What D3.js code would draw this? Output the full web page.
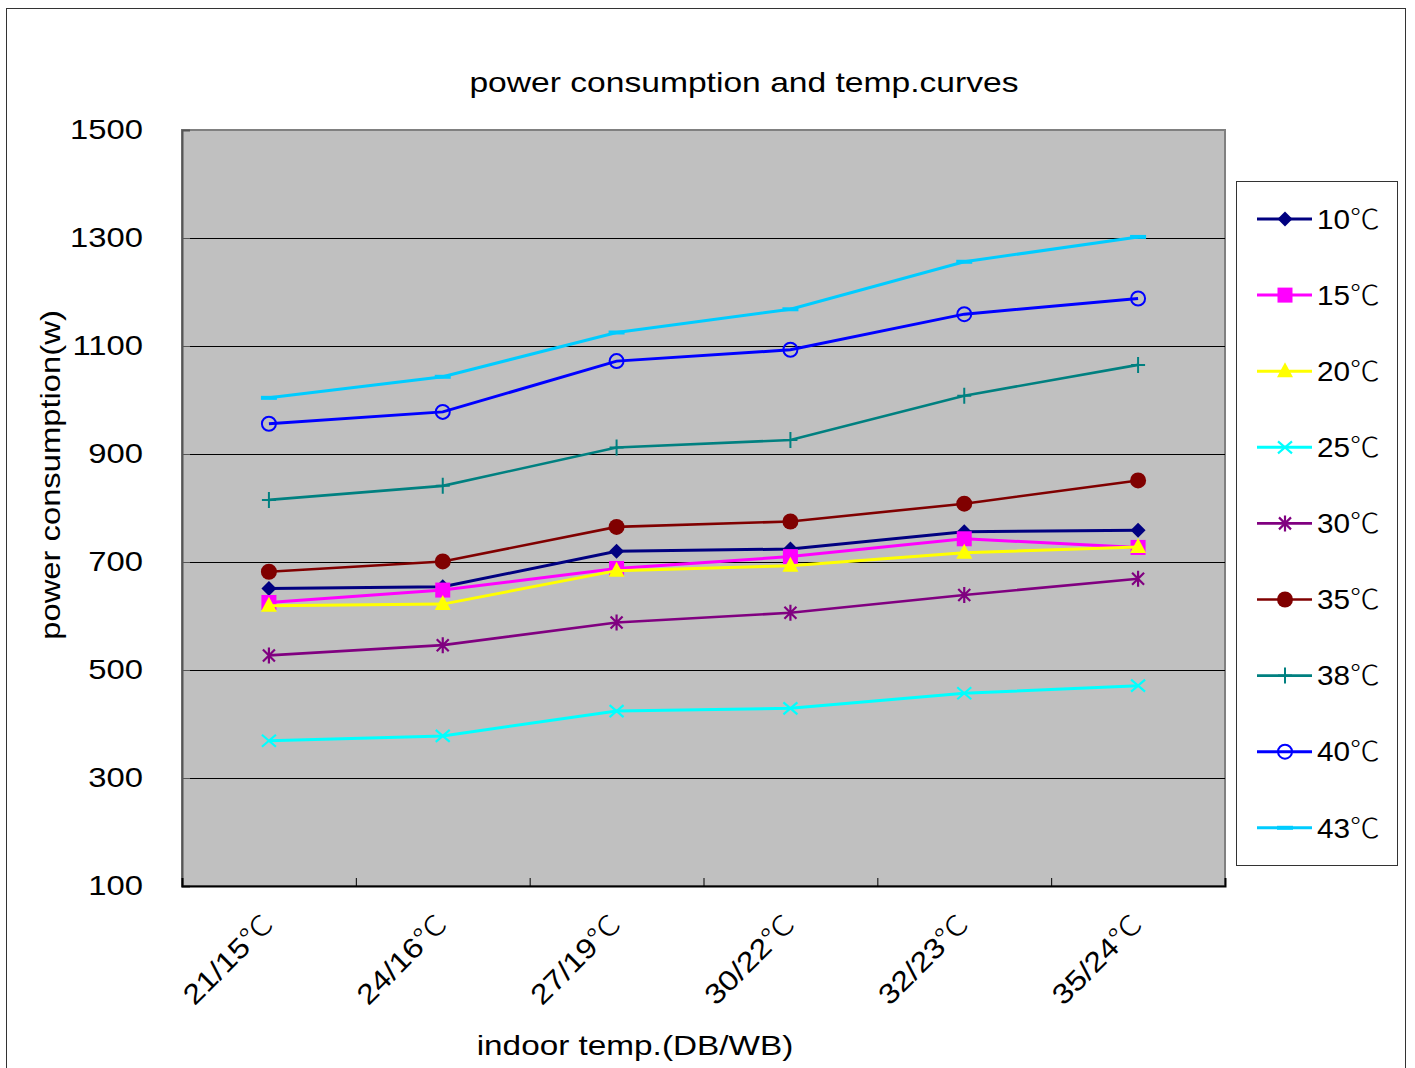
<!DOCTYPE html>
<html><head><meta charset="utf-8">
<script src="https://cdn.jsdelivr.net/npm/d3@7"></script>
<style>body{margin:0;background:#fff}svg text{font-family:"Liberation Sans",Arial,sans-serif;fill:#000}.cjk{font-family:"Noto Sans CJK SC",sans-serif}</style>
</head><body>
<svg id="c" width="1415" height="1068"></svg>
<script>
const categories = ["21/15℃","24/16℃","27/19℃","30/22℃","32/23℃","35/24℃"];
const yTicks = [100,300,500,700,900,1100,1300,1500];
const seriesNames = ["10℃","15℃","20℃","25℃","30℃","35℃","38℃","40℃","43℃"];
const s10 = [651,654,720,724,756,759];
const s15 = [625,648,688,710,743,727];
const s20 = [619,622,684,693,717,728];
const s25 = [369,378,424,429,457,471];
const s30 = [527,546,588,606,639,669];
const s35 = [682,701,765,775,808,851];
const s38 = [815,841,912,926,1008,1065];
const s40 = [956,978,1072,1093,1159,1188];
const s43 = [1004,1043,1125,1168,1256,1302];
const seriesValues = [s10,s15,s20,s25,s30,s35,s38,s40,s43];
const colors = ["#000080","#FF00FF","#FFFF00","#00FFFF","#800080","#800000","#008080","#0000FF","#00CCFF"];
const markers = ["diamond","square","triangle","x","star","dot","plus","circle","dash"];

const svg = d3.select("#c");
const L=182,R=1225,T=130,B=886;
svg.append("rect").attr("x",6.5).attr("y",8.5).attr("width",1399).attr("height",1070).attr("fill","#fff").attr("stroke","#333").attr("stroke-width",1);

const x = d3.scaleBand().domain(categories).range([L,R]);
const xEdge = d3.scaleLinear().domain([0,categories.length]).range([L,R]);
const y = d3.scaleLinear().domain([100,1500]).range([B,T]);

svg.append("rect").attr("x",L).attr("y",T).attr("width",R-L).attr("height",B-T).attr("fill","#C0C0C0").attr("stroke","#808080").attr("stroke-width",2);

svg.append("g").selectAll("line").data(yTicks.filter(v=>v>100&&v<1500)).join("line")
  .attr("x1",L).attr("x2",R).attr("y1",d=>Math.round(y(d))+0.5).attr("y2",d=>Math.round(y(d))+0.5)
  .attr("stroke","#000").attr("stroke-width",1);

const gy = svg.append("g").attr("transform",`translate(${L},0)`)
  .call(d3.axisLeft(y).tickValues(yTicks).tickSize(-8).tickPadding(39).tickFormat(d3.format("d")));
gy.select(".domain").attr("stroke","#555").attr("stroke-width",2);
gy.selectAll(".tick line").attr("stroke","#555");
gy.selectAll("text").attr("font-size",28).attr("data-s",1.17);

const gx = svg.append("g").attr("transform",`translate(0,${B})`)
  .call(d3.axisBottom(xEdge).tickValues(d3.range(categories.length+1)).tickSize(-8).tickFormat(""));
gx.select(".domain").attr("stroke","#000").attr("stroke-width",2);
gx.selectAll(".tick line").attr("stroke","#000");

function splitDeg(sel){
  sel.each(function(){
    const t=d3.select(this), s=t.text();
    const i=s.indexOf("℃");
    if(i<0) return;
    t.text(null);
    t.append("tspan").text(s.slice(0,i));
    t.append("tspan").attr("class","cjk").attr("font-weight",300).text("℃");
  });
}

const gxl = svg.append("g").attr("transform",`translate(0,${B})`)
  .call(d3.axisBottom(x).tickSize(0).tickPadding(0));
gxl.select(".domain").remove();
gxl.selectAll("text").attr("font-size",28).attr("text-anchor","end")
  .attr("dy",0).attr("y",0).attr("data-s",1.16)
  .attr("transform","translate(6,40) rotate(-45)");
splitDeg(gxl.selectAll("text"));

const line = d3.line().x((d,i)=>x(categories[i])+x.bandwidth()/2).y(d=>y(d));
function drawMarker(g,type,col,cx,cy){
  const s=7.5;
  if(type==="diamond") g.append("path").attr("d",`M${cx},${cy-s}L${cx+s},${cy}L${cx},${cy+s}L${cx-s},${cy}Z`).attr("fill",col);
  else if(type==="square") g.append("rect").attr("x",cx-7.5).attr("y",cy-7.5).attr("width",15).attr("height",15).attr("fill",col);
  else if(type==="triangle") g.append("path").attr("d",`M${cx},${cy-9}L${cx+8},${cy+6}L${cx-8},${cy+6}Z`).attr("fill",col);
  else if(type==="x") g.append("path").attr("d",`M${cx-7},${cy-6}L${cx+7},${cy+6}M${cx-7},${cy+6}L${cx+7},${cy-6}`).attr("stroke",col).attr("stroke-width",2.2);
  else if(type==="star") g.append("path").attr("d",`M${cx-6},${cy-6}L${cx+6},${cy+6}M${cx-6},${cy+6}L${cx+6},${cy-6}M${cx},${cy-8}L${cx},${cy+8}`).attr("stroke",col).attr("stroke-width",2.2);
  else if(type==="dot") g.append("circle").attr("cx",cx).attr("cy",cy).attr("r",8).attr("fill",col);
  else if(type==="plus") g.append("path").attr("d",`M${cx-7},${cy}L${cx+7},${cy}M${cx},${cy-8}L${cx},${cy+8}`).attr("stroke",col).attr("stroke-width",2);
  else if(type==="circle") g.append("circle").attr("cx",cx).attr("cy",cy).attr("r",7).attr("fill","none").attr("stroke",col).attr("stroke-width",2);
  else if(type==="dash") g.append("rect").attr("x",cx-8).attr("y",cy-2).attr("width",16).attr("height",4).attr("fill",col);
}
const widths=[3,3,3,3,2.6,2.6,2.6,3,3];
seriesValues.forEach((vals,k)=>{
  const g=svg.append("g");
  g.append("path").datum(vals).attr("d",line).attr("fill","none").attr("stroke",colors[k]).attr("stroke-width",widths[k]);
  vals.forEach((v,i)=>drawMarker(g,markers[k],colors[k],x(categories[i])+x.bandwidth()/2,y(v)));
});

const lg=svg.append("g");
lg.append("rect").attr("x",1236.5).attr("y",181.5).attr("width",161).attr("height",684).attr("fill","#fff").attr("stroke","#333").attr("stroke-width",1);
seriesNames.forEach((n,k)=>{
  const cy=219+k*76.1;
  lg.append("line").attr("x1",1257).attr("x2",1312).attr("y1",cy).attr("y2",cy).attr("stroke",colors[k]).attr("stroke-width",widths[k]);
  drawMarker(lg,markers[k],colors[k],1285,cy);
  const t=lg.append("text").attr("x",1317).attr("y",cy).attr("dy","0.36em").attr("font-size",27).attr("data-s",1.1).text(n);
  splitDeg(t);
});

svg.append("text").attr("x",744).attr("y",92).attr("text-anchor","middle").attr("font-size",28).attr("data-s",1.2).text("power consumption and temp.curves");
svg.append("text").attr("transform","translate(60,475) rotate(-90)").attr("text-anchor","middle").attr("font-size",28).attr("data-s",1.17).text("power consumption(w)");
svg.append("text").attr("x",635).attr("y",1055).attr("text-anchor","middle").attr("font-size",28).attr("data-s",1.19).text("indoor temp.(DB/WB)");

svg.selectAll("text").each(function(){
  const f=+(this.getAttribute("data-s")||1.17);
  const w=this.getComputedTextLength();
  if(w>0){ this.setAttribute("textLength",(w*f).toFixed(1)); this.setAttribute("lengthAdjust","spacingAndGlyphs"); }
});
</script>
</body></html>
